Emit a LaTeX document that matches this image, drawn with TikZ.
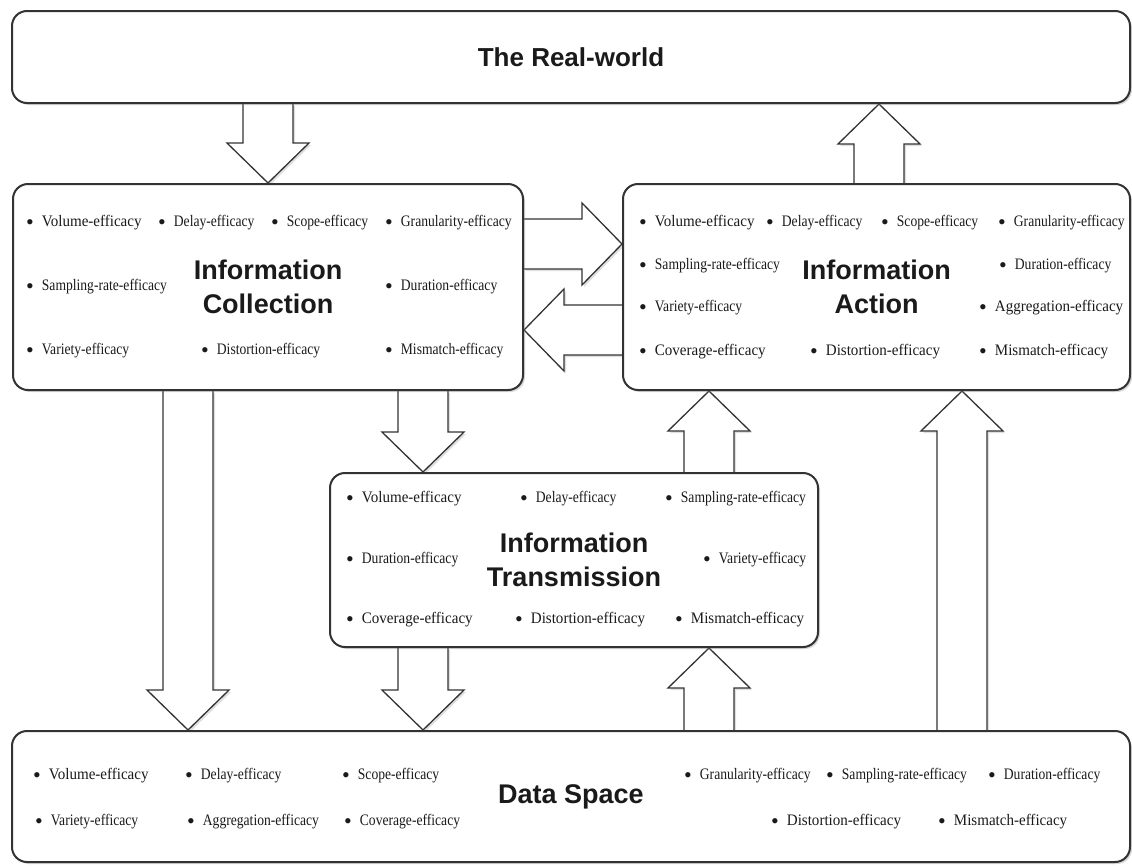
\documentclass[tikz,border=0pt]{standalone}
\usepackage{fontspec}
\setmainfont{Liberation Serif}
\newfontfamily\headfont{Liberation Sans}
\newfontfamily\itemfont{Liberation Serif}[FakeStretch=0.94]
\newfontfamily\narrowfont{Liberation Serif}[FakeStretch=0.85]
\usetikzlibrary{calc,shadows,backgrounds}

\definecolor{linegray}{HTML}{333333}
\definecolor{textdark}{HTML}{1A1A1A}

% big hollow arrow, from #1 to the tip #2
\newcommand{\bigarrow}[2]{%
  \coordinate (hb) at ($(#2)!40pt!(#1)$);
  \draw[blockarrow] ($(#1)!25pt!90:(#2)$) -- ($(hb)!25pt!90:(#2)$)
    -- ($(hb)!41pt!90:(#2)$) -- (#2) -- ($(hb)!41pt!-90:(#2)$)
    -- ($(hb)!25pt!-90:(#2)$) -- ($(#1)!25pt!-90:(#2)$);
}

\begin{document}
\begin{tikzpicture}[x=1pt, y=-1pt,
             box/.style = {draw=linegray, line width=2pt, rounded corners=15pt, fill=white,
                           inner sep=0pt, align=center, text=textdark,
                           font=\headfont\bfseries\fontsize{27}{33.5}\selectfont,
                           drop shadow={shadow xshift=2pt, shadow yshift=-2pt, opacity=0.3}},
             item/.style = {anchor=west, inner sep=0pt, text=textdark,
                            font=\itemfont\fontsize{16}{18}\selectfont,
                            execute at begin node={\raisebox{-2.3pt}{\rmfamily\fontsize{22}{18}\selectfont\textbullet}\hspace{8pt}}},
             itemn/.style = {item, font=\narrowfont\fontsize{16}{18}\selectfont},
             blockarrow/.style = {draw=linegray, fill=white, line width=1.3pt, line join=miter,
                                  drop shadow={shadow xshift=2pt, shadow yshift=-2pt, opacity=0.25}}]
            \useasboundingbox (0,0) rectangle (1132,865);

            % Riquadri
            \node[box, minimum width=1118pt, minimum height=92pt,
                  font=\headfont\bfseries\fontsize{26}{31}\selectfont] (rw) at (571,57) {The Real-world};
            \node[box, minimum width=510pt, minimum height=206pt] (col) at (268,287) {Information\\Collection};
            \node[box, minimum width=507pt, minimum height=206pt] (act) at (876.5,287) {Information\\Action};
            \node[box, minimum width=488pt, minimum height=174pt] (trans) at (574,560) {Information\\Transmission};
            \node[box, minimum width=1118pt, minimum height=131pt] (data) at (571,796.5) {Data Space};

            % Voci: Collection
            \node[item] (col1) at (26,223) {Volume-efficacy};
            \node[itemn] (col2) at (158,223) {Delay-efficacy};
            \node[itemn] (col3) at (271,223) {Scope-efficacy};
            \node[itemn] (col4) at (385,223) {Granularity-efficacy};
            \node[itemn] (col5) at (26,287) {Sampling-rate-efficacy};
            \node[itemn] (col6) at (385,287) {Duration-efficacy};
            \node[itemn] (col7) at (26,351) {Variety-efficacy};
            \node[itemn] (col8) at (201,351) {Distortion-efficacy};
            \node[itemn] (col9) at (385,351) {Mismatch-efficacy};

            % Voci: Action
            \node[item] (act1) at (639,223) {Volume-efficacy};
            \node[itemn] (act2) at (766,223) {Delay-efficacy};
            \node[itemn] (act3) at (881,223) {Scope-efficacy};
            \node[itemn] (act4) at (998,223) {Granularity-efficacy};
            \node[itemn] (act5) at (639,266) {Sampling-rate-efficacy};
            \node[itemn] (act6) at (999,266) {Duration-efficacy};
            \node[itemn] (act7) at (639,308) {Variety-efficacy};
            \node[item] (act8) at (979,308) {Aggregation-efficacy};
            \node[item] (act9) at (639,352) {Coverage-efficacy};
            \node[item] (act10) at (810,352) {Distortion-efficacy};
            \node[item] (act11) at (979,352) {Mismatch-efficacy};

            % Voci: Transmission
            \node[item] (tr1) at (346,499) {Volume-efficacy};
            \node[itemn] (tr2) at (520,499) {Delay-efficacy};
            \node[itemn] (tr3) at (665,499) {Sampling-rate-efficacy};
            \node[itemn] (tr4) at (346,560) {Duration-efficacy};
            \node[itemn] (tr5) at (703,560) {Variety-efficacy};
            \node[item] (tr6) at (346,620) {Coverage-efficacy};
            \node[item] (tr7) at (515,620) {Distortion-efficacy};
            \node[item] (tr8) at (675,620) {Mismatch-efficacy};

            % Voci: Data Space
            \node[item] (ds1) at (33,776) {Volume-efficacy};
            \node[itemn] (ds2) at (185,776) {Delay-efficacy};
            \node[itemn] (ds3) at (342,776) {Scope-efficacy};
            \node[itemn] (ds4) at (684,776) {Granularity-efficacy};
            \node[itemn] (ds5) at (826,776) {Sampling-rate-efficacy};
            \node[itemn] (ds6) at (988,776) {Duration-efficacy};
            \node[itemn] (ds7) at (35,822) {Variety-efficacy};
            \node[itemn] (ds8) at (187,822) {Aggregation-efficacy};
            \node[itemn] (ds9) at (344,822) {Coverage-efficacy};
            \node[item] (ds10) at (771,822) {Distortion-efficacy};
            \node[item] (ds11) at (938,822) {Mismatch-efficacy};

            % Frecce
            \begin{pgfonlayer}{background}
                \fill[white] (0,0) rectangle (1132,865);
                \bigarrow{rw.south -| col.north}{col.north}
                \bigarrow{col.east |- 0,244}{act.west |- 0,244}
                \bigarrow{act.west |- 0,330}{col.east |- 0,330}
                \bigarrow{act.north -| 879,0}{rw.south -| 879,0}
                \bigarrow{col.south -| 188,0}{data.north -| 188,0}
                \bigarrow{col.south -| 423,0}{trans.north -| 423,0}
                \bigarrow{trans.north -| 709,0}{act.south -| 709,0}
                \bigarrow{trans.south -| 423,0}{data.north -| 423,0}
                \bigarrow{data.north -| 709,0}{trans.south -| 709,0}
                \bigarrow{data.north -| 962,0}{act.south -| 962,0}
            \end{pgfonlayer}
        \end{tikzpicture}
\end{document}
